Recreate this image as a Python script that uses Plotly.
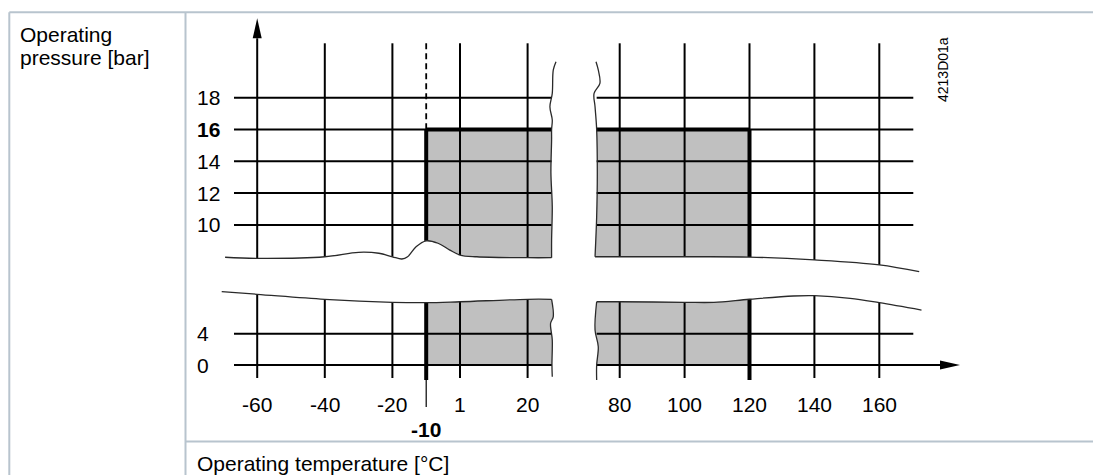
import plotly.graph_objects as go

W, H = 1093, 475

# ---------------- data ----------------
temp_ticks_left = [-60, -40, -20, 0, 20]
temp_labels_left = ["-60", "-40", "-20", "1", "20"]
temp_ticks_right = [80, 100, 120, 140, 160]
temp_labels_right = ["80", "100", "120", "140", "160"]
pres_ticks_upper = [10, 12, 14, 16, 18]
pres_labels_upper = ["10", "12", "14", "16", "18"]
pres_ticks_lower = [0, 4]
pres_labels_lower = ["0", "4"]

temp_min = -10      # lower operating temperature limit
temp_max = 120      # upper operating temperature limit
pres_max = 16       # max operating pressure

# break lines (axis-break decoration), in each segment's own units
brk_ul_T = [-69.5, -60, -40, -30, -24, -20, -17.2, -15.5, -13, -10, -6.5, -3, 0, 5, 20, 27.1]
brk_ul_P = [7.97, 7.9, 8.0, 8.28, 8.22, 8.0, 7.86, 8.0, 8.63, 9.0, 8.85, 8.42, 8.11, 8.0, 7.94, 7.94]
brk_ur_T = [72.4, 80, 100, 120, 140, 160, 172.3]
brk_ur_P = [8.0, 8.0, 8.0, 7.98, 7.8, 7.49, 7.06]
brk_ll_T = [-70.5, -60, -40, -20, -10, 0, 20, 27.1]
brk_ll_P = [9.36, 9.03, 8.39, 8.01, 7.96, 8.08, 8.39, 8.39]
brk_lr_T = [72.9, 80, 100, 109, 120, 133.5, 140, 151, 160, 173]
brk_lr_P = [8.08, 8.08, 8.01, 8.0, 8.4, 8.81, 8.85, 8.52, 7.96, 7.02]

edge_ul_T = [28.4, 27.6, 27.3, 26.6, 27.3, 27.1, 27.1, 26.9, 27.3, 27.1, 27.1]
edge_ul_P = [20.26, 19.74, 18.27, 17.43, 16.6, 16.0, 15.34, 13.26, 11.15, 9.05, 7.94]
edge_ur_T = [72.7, 73.4, 73.9, 72.1, 72.4, 72.9, 73.1, 72.9, 72.4]
edge_ur_P = [20.26, 19.74, 18.9, 18.27, 17.43, 16.0, 13.24, 10.5, 8.0]
edge_ll_T = [27.1, 27.6, 26.8, 27.3, 27.2, 27.3]
edge_ll_P = [8.39, 6.17, 5.33, 3.19, 0, -1.5]
edge_lr_T = [72.9, 72.4, 73.4, 72.9, 72.9]
edge_lr_P = [8.08, 4.47, 2.34, 0, -1.92]

# ---------------- scales (pixel placement of the broken axes) ----------------
XL = dict(px0=460.0, v0=0.0, k=3.38)      # left temperature segment
XR = dict(px0=619.7, v0=80.0, k=3.245)    # right temperature segment
YU = dict(px0=161.3, v0=14.0, k=15.91)    # upper pressure segment
YL = dict(px0=365.0, v0=0.0, k=7.83)      # lower pressure segment


def xrange_of(s):
    return [s["v0"] - s["px0"] / s["k"], s["v0"] + (W - s["px0"]) / s["k"]]


def yrange_of(s):
    return [s["v0"] - (H - s["px0"]) / s["k"], s["v0"] + s["px0"] / s["k"]]


def px_to_x(s, px):
    return s["v0"] + (px - s["px0"]) / s["k"]


def py_to_y(s, py):
    return s["v0"] + (s["px0"] - py) / s["k"]


# layout extents (pixel positions converted through scales)
gl_left = px_to_x(XL, 234)
gl_right = px_to_x(XR, 913.3)
v_top = py_to_y(YU, 43.3)
v_bot = py_to_y(YL, 378)
thick_bot = py_to_y(YL, 380)
tick10_bot = py_to_y(YL, 407)
yarrow_tip = py_to_y(YU, 18.3)
yarrow_base = py_to_y(YU, 38.3)
yarrow_hw = 4.5 / XL["k"]
xarrow_tip = px_to_x(XR, 960)
xarrow_base = px_to_x(XR, 940)
xarrow_hw = 4.5 / YL["k"]

fig = go.Figure()

INK = "black"
BRK = "#2a2a2a"
GRAY = "#c0c0c0"


def line(xs, ys, xa, ya, width=2.0, color=INK, dash=None, shape="linear"):
    fig.add_trace(go.Scatter(x=xs, y=ys, xaxis=xa, yaxis=ya, mode="lines",
                             line=dict(color=color, width=width, dash=dash, shape=shape),
                             hoverinfo="skip", showlegend=False))


def poly(pts, xa, ya, color):
    fig.add_trace(go.Scatter(x=[p[0] for p in pts], y=[p[1] for p in pts],
                             xaxis=xa, yaxis=ya, mode="lines", fill="toself",
                             fillcolor=color, line=dict(width=0, color=color),
                             hoverinfo="skip", showlegend=False))


def at(ts, ps, t):
    return ps[ts.index(t)]


# ================= upper-left section (x, y) =================
pts = [(temp_min, pres_max)]
pts += [(t, p) for t, p in zip(edge_ul_T, edge_ul_P) if p <= pres_max]
pts += [(t, p) for t, p in reversed(list(zip(brk_ul_T, brk_ul_P))) if t >= temp_min]
poly(pts, "x", "y", GRAY)
for p in pres_ticks_upper:
    line([gl_left, edge_ul_T[edge_ul_P.index(16.0)]], [p, p], "x", "y")
for t in temp_ticks_left:
    top = yarrow_base if t == temp_ticks_left[0] else v_top
    line([t, t], [at(brk_ul_T, brk_ul_P, t), top], "x", "y")
line([temp_min, temp_min], [v_top, pres_max], "x", "y", width=1.8, dash="6px,4px")
line([temp_min, temp_min], [at(brk_ul_T, brk_ul_P, temp_min), pres_max], "x", "y", width=4)
line([temp_min, edge_ul_T[edge_ul_P.index(16.0)]], [pres_max, pres_max], "x", "y", width=4)
line(brk_ul_T, brk_ul_P, "x", "y", width=1.3, color=BRK, shape="spline")
line(edge_ul_T, edge_ul_P, "x", "y", width=1.3, color=BRK, shape="spline")
t0 = temp_ticks_left[0]
poly([(t0 - yarrow_hw, yarrow_base), (t0 + yarrow_hw, yarrow_base), (t0, yarrow_tip)], "x", "y", INK)

# ================= upper-right section (x2, y) =================
pts = [(t, p) for t, p in zip(edge_ur_T, edge_ur_P) if p <= pres_max]
pts += [(t, p) for t, p in zip(brk_ur_T, brk_ur_P) if t <= temp_max]
pts += [(temp_max, pres_max)]
poly(pts, "x2", "y", GRAY)
for p in pres_ticks_upper:
    line([edge_ur_T[edge_ur_P.index(16.0)], gl_right], [p, p], "x2", "y")
for t in temp_ticks_right:
    line([t, t], [at(brk_ur_T, brk_ur_P, t), v_top], "x2", "y")
line([temp_max, temp_max], [at(brk_ur_T, brk_ur_P, temp_max), pres_max], "x2", "y", width=4)
line([edge_ur_T[edge_ur_P.index(16.0)], temp_max], [pres_max, pres_max], "x2", "y", width=4)
line(brk_ur_T, brk_ur_P, "x2", "y", width=1.3, color=BRK, shape="spline")
line(edge_ur_T, edge_ur_P, "x2", "y", width=1.3, color=BRK, shape="spline")

# ================= lower-left section (x, y2) =================
pts = [(t, p) for t, p in zip(brk_ll_T, brk_ll_P) if t >= temp_min]
pts += [(t, p) for t, p in zip(edge_ll_T, edge_ll_P) if p >= 0]
pts += [(temp_min, 0)]
poly(pts, "x", "y2", GRAY)
for p in pres_ticks_lower:
    line([gl_left, edge_ll_T[edge_ll_P.index(0)]], [p, p], "x", "y2")
for t in temp_ticks_left:
    line([t, t], [at(brk_ll_T, brk_ll_P, t), v_bot], "x", "y2")
line([temp_min, temp_min], [at(brk_ll_T, brk_ll_P, temp_min), thick_bot], "x", "y2", width=4)
line([temp_min, temp_min], [thick_bot, tick10_bot], "x", "y2", width=1.2)
line(brk_ll_T, brk_ll_P, "x", "y2", width=1.3, color=BRK, shape="spline")
line(edge_ll_T, edge_ll_P, "x", "y2", width=1.3, color=BRK, shape="spline")

# ================= lower-right section (x2, y2) =================
pts = [(temp_max, 0)]
pts += [(t, p) for t, p in reversed(list(zip(edge_lr_T, edge_lr_P))) if p >= 0]
pts += [(t, p) for t, p in zip(brk_lr_T, brk_lr_P) if t <= temp_max]
poly(pts, "x2", "y2", GRAY)
line([edge_lr_T[edge_lr_P.index(0)], gl_right], [pres_ticks_lower[1]] * 2, "x2", "y2")
line([edge_lr_T[edge_lr_P.index(0)], xarrow_base], [0, 0], "x2", "y2")
for t in temp_ticks_right:
    line([t, t], [at(brk_lr_T, brk_lr_P, t), v_bot], "x2", "y2")
line([temp_max, temp_max], [at(brk_lr_T, brk_lr_P, temp_max), thick_bot], "x2", "y2", width=4)
line(brk_lr_T, brk_lr_P, "x2", "y2", width=1.3, color=BRK, shape="spline")
line(edge_lr_T, edge_lr_P, "x2", "y2", width=1.3, color=BRK, shape="spline")
poly([(xarrow_base, -xarrow_hw), (xarrow_base, xarrow_hw), (xarrow_tip, 0)], "x2", "y2", INK)

# ================= text =================
FONT = "Liberation Sans, Arial, sans-serif"
ann = []


def txt(text, x, y, xref, yref, size=21, xanchor="center", yanchor="middle", angle=0):
    ann.append(dict(text=text, x=x, y=y, xref=xref, yref=yref, showarrow=False,
                    xanchor=xanchor, yanchor=yanchor, textangle=angle,
                    font=dict(family=FONT, size=size, color="black")))


ylab_x = 195 / W
for p, s in zip(pres_ticks_upper, pres_labels_upper):
    txt("<b>%s</b>" % s if p == pres_max else s, ylab_x, p, "paper", "y", xanchor="left")
for p, s in zip(pres_ticks_lower, pres_labels_lower):
    txt(s, ylab_x, p, "paper", "y2", xanchor="left")
xlab_y = 1 - 404 / H
for t, s in zip(temp_ticks_left, temp_labels_left):
    txt(s, t, xlab_y, "x", "paper")
for t, s in zip(temp_ticks_right, temp_labels_right):
    txt(s, t, xlab_y, "x2", "paper")
txt("<b>%d</b>" % temp_min, temp_min, 1 - 429 / H, "x", "paper")

txt("Operating", 18 / W, 1 - 34.2 / H, "paper", "paper", xanchor="left")
txt("pressure [bar]", 18 / W, 1 - 57.5 / H, "paper", "paper", xanchor="left")
txt("Operating temperature [°C]", 195 / W, 1 - 463.4 / H, "paper", "paper", xanchor="left")
txt("4213D01a", 943 / W, 1 - 70 / H, "paper", "paper", size=14, angle=-90)

# ================= table frame =================
FR = "#b8c4ce"
shapes = [
    dict(type="line", xref="paper", yref="paper", x0=9.3 / W, x1=1, y0=1 - 12.3 / H, y1=1 - 12.3 / H),
    dict(type="line", xref="paper", yref="paper", x0=9.3 / W, x1=9.3 / W, y0=1 - 12.3 / H, y1=0),
    dict(type="line", xref="paper", yref="paper", x0=185.5 / W, x1=185.5 / W, y0=1 - 12.3 / H, y1=0),
    dict(type="line", xref="paper", yref="paper", x0=185.5 / W, x1=1, y0=1 - 441.5 / H, y1=1 - 441.5 / H),
]
for s in shapes:
    s["line"] = dict(color=FR, width=2)

ax_common = dict(visible=False, fixedrange=True, domain=[0, 1])
fig.update_layout(
    width=W, height=H, margin=dict(l=0, r=0, t=0, b=0),
    paper_bgcolor="white", plot_bgcolor="rgba(0,0,0,0)",
    showlegend=False,
    xaxis=dict(range=xrange_of(XL), **ax_common),
    xaxis2=dict(range=xrange_of(XR), anchor="y", **ax_common),
    yaxis=dict(range=yrange_of(YU), **ax_common),
    yaxis2=dict(range=yrange_of(YL), anchor="x", **ax_common),
    annotations=ann, shapes=shapes,
)

fig.write_html("out.html", config={"displayModeBar": False},
               post_script="document.body.style.margin='0px';document.body.style.overflow='hidden';")
